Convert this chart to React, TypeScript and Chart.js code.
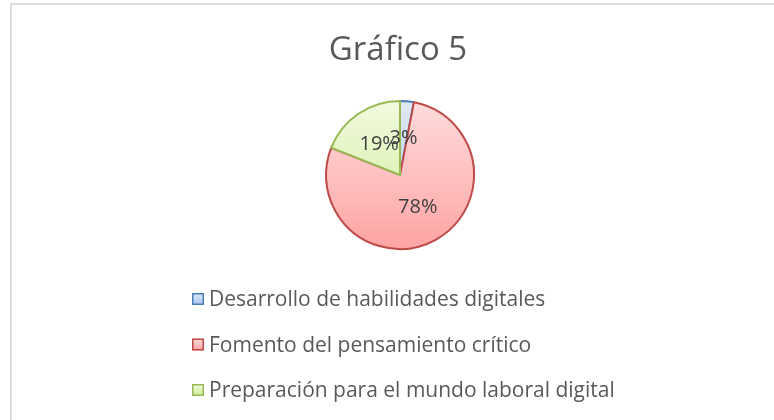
import React, { useEffect, useRef } from "react";
import { Chart, registerables } from "chart.js";

Chart.register(...registerables);

const TITLE = "Gráfico 5";
const CATEGORIES = [
  "Desarrollo de habilidades digitales",
  "Fomento del pensamiento crítico",
  "Preparación para el mundo laboral digital",
];
const VALUES = [3, 78, 19];
const LABELS = ["3%", "78%", "19%"];

const FILL_TOP = ["#e0e9f8", "#ffdcdc", "#f2fadf"];
const FILL_BOTTOM = ["#a9c2ec", "#ffa4a4", "#cdeb95"];
const BORDERS = ["#4a7ebb", "#be4b48", "#98b954"];

const FONT = "'Open Sans', Lato, sans-serif";
const TEXT = "#595959";

const decorPlugin = {
  id: "decor",
  beforeDraw(chart: any) {
    const ctx = chart.ctx;
    ctx.save();
    ctx.fillStyle = "#ffffff";
    ctx.fillRect(0, 0, chart.width, chart.height);
    ctx.strokeStyle = "#d9d9d9";
    ctx.lineWidth = 1.75;
    ctx.strokeRect(11, 4, chart.width + 20, chart.height + 20);
    ctx.fillStyle = TEXT;
    ctx.font = `33px ${FONT}`;
    ctx.textAlign = "center";
    ctx.textBaseline = "alphabetic";
    ctx.fillText(TITLE, 398, 60);
    ctx.restore();
  },
  afterDatasetsDraw(chart: any) {
    const ctx = chart.ctx;
    const meta = chart.getDatasetMeta(0);
    ctx.save();
    ctx.fillStyle = "#404040";
    ctx.font = `20px ${FONT}`;
    ctx.textAlign = "center";
    ctx.textBaseline = "middle";
    meta.data.forEach((el: any, i: number) => {
      const p = el.tooltipPosition();
      ctx.fillText(LABELS[i], p.x, p.y);
    });
    // legend
    const labels = chart.data.labels as string[];
    labels.forEach((lab, i) => {
      const y = 293 + i * 45.5;
      const g = ctx.createLinearGradient(0, y, 0, y + 12);
      g.addColorStop(0, FILL_TOP[i]);
      g.addColorStop(1, FILL_BOTTOM[i]);
      ctx.fillStyle = g;
      ctx.fillRect(192, y, 12, 12);
      ctx.strokeStyle = BORDERS[i];
      ctx.lineWidth = 1.5;
      ctx.strokeRect(192.75, y + 0.75, 10.5, 10.5);
      ctx.fillStyle = TEXT;
      ctx.font = `21px ${FONT}`;
      ctx.textAlign = "left";
      ctx.textBaseline = "alphabetic";
      ctx.fillText(lab, 209, y + 13);
    });
    ctx.restore();
  },
};

export default function App() {
  const ref = useRef<HTMLCanvasElement>(null);
  useEffect(() => {
    document.body.style.margin = "0";
    const canvas = ref.current!;
    const chart = new Chart(canvas, {
      type: "pie",
      data: {
        labels: CATEGORIES,
        datasets: [
          {
            data: VALUES,
            backgroundColor: (c: any) => {
              const area = c.chart.chartArea;
              const i = c.dataIndex;
              if (!area) return FILL_TOP[i];
              const g = c.chart.ctx.createLinearGradient(0, area.top, 0, area.bottom);
              g.addColorStop(0, FILL_TOP[i]);
              g.addColorStop(1, FILL_BOTTOM[i]);
              return g;
            },
            borderColor: BORDERS,
            borderWidth: 2,
            borderJoinStyle: "miter",
            radius: 74,
          } as any,
        ],
      },
      options: {
        responsive: false,
        animation: false,
        layout: { padding: { left: 326, right: 300, top: 101, bottom: 171 } },
        plugins: {
          legend: { display: false },
          title: { display: false },
          tooltip: { enabled: false },
        },
      },
      plugins: [decorPlugin],
    });
    return () => chart.destroy();
  }, []);
  return (
    <div style={{ position: "absolute", left: 0, top: 0, width: 774, height: 420 }}>
      <canvas ref={ref} width={774} height={420} />
    </div>
  );
}
